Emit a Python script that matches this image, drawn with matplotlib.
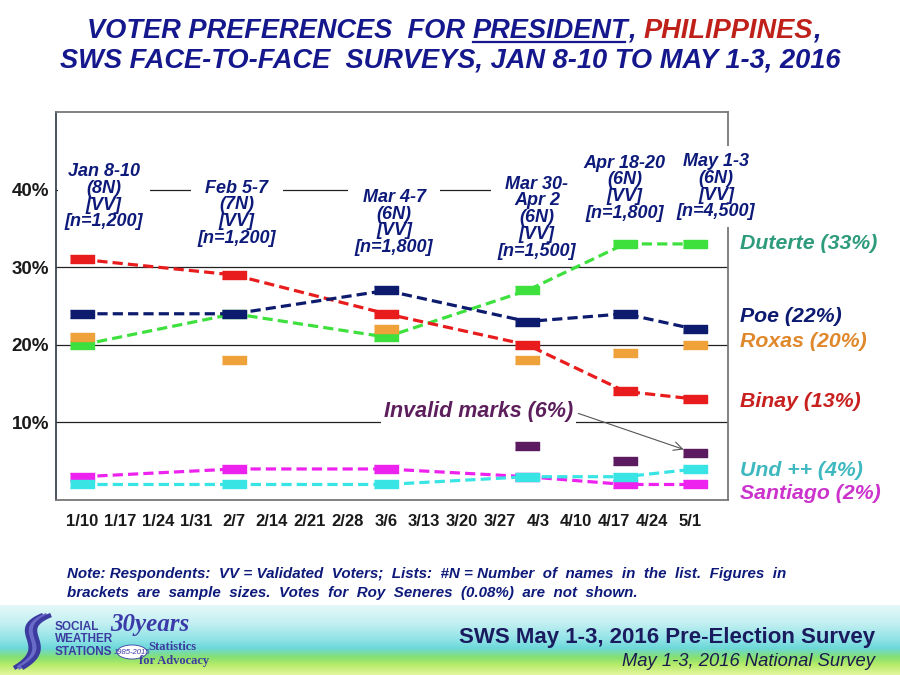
import matplotlib
matplotlib.use('Agg')
import matplotlib.pyplot as plt
import numpy as np
import pandas as pd
from matplotlib.colors import LinearSegmentedColormap
from matplotlib.patches import Ellipse
from matplotlib.lines import Line2D

plt.rcParams['font.family'] = ['Liberation Sans', 'DejaVu Sans']

# survey fieldwork (plotted at the mid/end date used in the original chart)
survey_dates = pd.to_datetime(['2016-01-10', '2016-02-07', '2016-03-06',
                               '2016-04-01', '2016-04-19', '2016-05-02'])
survey_labels = ['Jan 8-10\n(8N)\n[VV]\n[n=1,200]',
                 'Feb 5-7\n(7N)\n[VV]\n[n=1,200]',
                 'Mar 4-7\n(6N)\n[VV]\n[n=1,800]',
                 'Mar 30-\nApr 2\n(6N)\n[VV]\n[n=1,500]',
                 'Apr 18-20\n(6N)\n[VV]\n[n=1,800]',
                 'May 1-3\n(6N)\n[VV]\n[n=4,500]']

duterte = [20, 24, 21, 27, 33, 33]
poe = [24, 24, 27, 23, 24, 22]
binay = [31, 29, 24, 20, 14, 13]
roxas = [21, 18, 22, 18, 19, 20]
santiago = [3, 4, 4, 3, 2, 2]
undecided = [2, 2, 2, 3, 3, 4]
invalid = [np.nan, np.nan, np.nan, 7, 5, 6]

end_labels = ['Duterte (33%)', 'Poe (22%)', 'Roxas (20%)', 'Binay (13%)',
              'Und ++ (4%)', 'Santiago (2%)']
end_label_y = [33.1, 23.6, 20.4, 12.7, 3.8, 0.8]
end_label_colors = ['#2e9c7c', '#0c1a70', '#e0882c', '#c8201e', '#40b8c0', '#cc33cc']

week_ticks = pd.date_range('2016-01-10', '2016-05-01', freq='7D')
tick_labels = [f'{d.month}/{d.day}' for d in week_ticks]

NAVY = '#0d1a7a'
TITLE_NAVY = '#14188c'

fig = plt.figure(figsize=(9, 6.75), dpi=100)
ax = fig.add_axes([56 / 900, 1 - 500 / 675, 672 / 900, 388 / 675])

rect = [(-1.5, -0.5), (1.5, -0.5), (1.5, 0.5), (-1.5, 0.5)]
dash = (0, (3.2, 1.6))
series = [
    (santiago, '#ee22ee', True),
    (undecided, '#38e4e4', True),
    (duterte, '#3ee03e', True),
    (roxas, '#f0a23a', False),
    (binay, '#e81c1c', True),
    (poe, '#0d1b6e', True),
    (invalid, '#5c1a60', False),
]
for values, color, joined in series:
    ax.plot(survey_dates, values, color=color, lw=2.3,
            ls=dash if joined else 'none', marker=rect, ms=17,
            mfc=color, mec=color, zorder=4)

for v in [10, 20, 30, 40]:
    ax.axhline(v, color='#222222', lw=0.9, zorder=1)

ax.set_ylim(0, 50)
ax.set_xlim(pd.Timestamp('2016-01-10') - pd.Timedelta(days=4.8),
            pd.Timestamp('2016-05-01') + pd.Timedelta(days=7))
ax.set_yticks([10, 20, 30, 40])
ax.set_yticklabels(['10%', '20%', '30%', '40%'])
ax.set_xticks(week_ticks)
ax.set_xticklabels(tick_labels)
ax.tick_params(length=0, labelcolor='#1a1a1a')
ax.tick_params(axis='x', pad=10, labelsize=12)
ax.tick_params(axis='y', pad=5, labelsize=13.5)
for lab in ax.get_xticklabels() + ax.get_yticklabels():
    lab.set_fontweight('bold')
for side in ['top', 'right', 'bottom']:
    ax.spines[side].set_color('#777777')
ax.spines['left'].set_color('#3a4450')
for s in ax.spines.values():
    s.set_linewidth(1.3)

# survey annotations (white boxes hide the 40% rule behind them)
label_shift = [4, 0.5, 1.5, 1.8, 0, 3.8]
label_top = [43.4, 41.3, 40.1, 41.8, 44.5, 44.7]
for d, txt, sh, top in zip(survey_dates, survey_labels, label_shift, label_top):
    ax.text(d + pd.Timedelta(days=sh), top, txt, ha='center', va='top',
            fontsize=13, fontweight='bold', fontstyle='italic', color=NAVY,
            linespacing=0.98, zorder=2.7, clip_on=False,
            bbox=dict(fc='white', ec='none', pad=5))

ax.annotate('Invalid marks (6%)', xy=(survey_dates[-1], invalid[-1]),
            xytext=(pd.Timestamp('2016-04-09 10:00'), 11.4),
            ha='right', va='center', fontsize=15.5, fontweight='bold',
            fontstyle='italic', color='#5c1f5c', zorder=2.7,
            bbox=dict(fc='white', ec='none', pad=2),
            arrowprops=dict(arrowstyle='->', color='#555555', lw=0.8,
                            shrinkB=9, relpos=(1, 0.5)))

for txt, y, c in zip(end_labels, end_label_y, end_label_colors):
    ax.text(1.018, y, txt, transform=ax.get_yaxis_transform(), ha='left',
            va='center', fontsize=15.3, fontweight='bold', fontstyle='italic',
            color=c, clip_on=False)

# title with coloured / underlined pieces
fig.canvas.draw()
renderer = fig.canvas.get_renderer()
title_kw = dict(fontsize=19.6, fontweight='bold', fontstyle='italic', va='baseline')
pieces = [('VOTER PREFERENCES  FOR ', TITLE_NAVY), ('PRESIDENT', TITLE_NAVY),
          (', ', TITLE_NAVY), ('PHILIPPINES', '#c0201a'), (',', TITLE_NAVY)]
texts = [fig.text(0, 1 - 38 / 675, p, color=c, **title_kw) for p, c in pieces]
widths = [t.get_window_extent(renderer).width for t in texts]
x = 454 - sum(widths) / 2
for t, w in zip(texts, widths):
    t.set_x(x / 900)
    x += w
pres = texts[1].get_window_extent(renderer)
fig.add_artist(Line2D([pres.x0 / 900, pres.x1 / 900 - 0.004],
                      [1 - 42 / 675, 1 - 42 / 675], color=TITLE_NAVY, lw=1.6,
                      transform=fig.transFigure))
fig.text(0.5, 1 - 67 / 675, 'SWS FACE-TO-FACE  SURVEYS, JAN 8-10 TO MAY 1-3, 2016',
         ha='center', color=TITLE_NAVY, **title_kw)

note_kw = dict(fontsize=10.9, fontweight='bold', fontstyle='italic', color=NAVY)
fig.text(67 / 900, 1 - 578 / 675,
         'Note: Respondents:  VV = Validated  Voters;  Lists:  #N = Number  of  names  in  the  list.  Figures  in',
         **note_kw)
fig.text(67 / 900, 1 - 597 / 675,
         'brackets  are  sample  sizes.  Votes  for  Roy  Seneres  (0.08%)  are  not  shown.',
         **note_kw)

# footer band
fa = fig.add_axes([0, 0, 1, 70 / 675])
band = LinearSegmentedColormap.from_list('band', [
    (0.0, '#e4f8f8'), (0.25, '#c4f0f2'), (0.5, '#8ee2e6'), (0.62, '#6cd8d8'),
    (0.75, '#86e070'), (0.86, '#b8ec6a'), (1.0, '#e4f6a0')])
fa.imshow(np.linspace(0, 1, 200).reshape(-1, 1), aspect='auto', cmap=band,
          extent=(0, 900, 70, 0))
fa.set_xlim(0, 900)
fa.set_ylim(70, 0)
fa.axis('off')

# SWS logo: striped "S" swoosh + words
t = np.linspace(0, 1, 60)[:, None]
ctrl = np.array([[47, 10], [8, 26], [58, 40], [18, 63]])
curve = ((1 - t) ** 3 * ctrl[0] + 3 * (1 - t) ** 2 * t * ctrl[1]
         + 3 * (1 - t) * t ** 2 * ctrl[2] + t ** 3 * ctrl[3])
for off, c in zip([0, 4, 8], ['#3c3ca0', '#6a6ac8', '#3c3ca0']):
    fa.plot(curve[:, 0] + off - 4, curve[:, 1], color=c, lw=3.2,
            solid_capstyle='butt')
for word, y in zip(['SOCIAL', 'WEATHER', 'STATIONS'], [22, 34, 47]):
    fa.text(55, y, word, ha='left', va='center', fontsize=8.5, fontweight='bold',
            color='#3c3ca0')
fa.text(150, 20, '30years', ha='center', va='center', fontsize=18,
        fontweight='bold', fontstyle='italic', family='Liberation Serif',
        color='#3a3aa8')
fa.add_patch(Ellipse((132, 47), 30, 14, fc='white', ec='#3a3aa8', lw=0.6))
fa.text(132, 47, '1985-2015', ha='center', va='center', fontsize=5.5,
        fontstyle='italic', color='#3a3aa8')
fa.text(172, 42, 'Statistics', ha='center', va='center', fontsize=9,
        fontweight='bold', family='Liberation Serif', color='#3c3ca0')
fa.text(174, 56, 'for Advocacy', ha='center', va='center', fontsize=9,
        fontweight='bold', family='Liberation Serif', color='#3c3ca0')

fa.text(875, 33, 'SWS May 1-3, 2016 Pre-Election Survey', ha='right',
        va='center', fontsize=16, fontweight='bold', color='#1a1a5e')
fa.text(875, 57, 'May 1-3, 2016 National Survey', ha='right', va='center',
        fontsize=13.2, fontstyle='italic', color='#1a1a4e')

fig.savefig('out.png', dpi=100)
